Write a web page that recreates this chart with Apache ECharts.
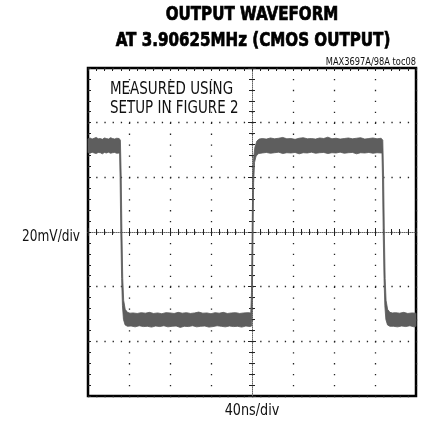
<!DOCTYPE html>
<html>
<head>
<meta charset="utf-8">
<script src="https://cdn.jsdelivr.net/npm/echarts@6/dist/echarts.min.js"></script>
<style>
  html, body { margin: 0; padding: 0; background: #fff; }
  #chart { width: 425px; height: 434px; }
</style>
</head>
<body>
<div id="chart"></div>
<script>
// Scope scales: 8 horizontal divisions of 40 ns, 6 vertical divisions of 20 mV
const timeRange = [0, 320];
const timeStep = 40;
const voltRange = [-60, 60];
const voltStep = 20;

// Text
const titleLines = ['OUTPUT WAVEFORM', 'AT 3.90625MHz (CMOS OUTPUT)'];
const partNote = 'MAX3697A/98A toc08';
const setupNote = ['MEASURED USING', 'SETUP IN FIGURE 2'];
const voltLabel = '20mV/div';
const timeLabel = '40ns/div';

// Upper edge of the noisy trace band: [time ns, mV]
const traceUpper = [
  [0, 34.1], [2, 34.4], [4, 34.0], [6, 34.3], [8, 34.6], [10, 34.1], [12, 34.2], [14, 33.9],
  [16, 34.4], [18, 34.2], [20, 34.0], [22, 34.5], [24, 34.2], [26, 34.0], [28, 34.3], [30.4, 34.2],
  [31.6, 33.6], [32.4, 20], [33.1, 0], [33.9, -17], [34.8, -25], [36.3, -28.3], [38.5, -29.4], [41, -29.7],
  [44, -29.6], [48, -29.8], [52, -29.5], [56, -29.7], [60, -29.4], [64, -29.8], [68, -29.6], [72, -29.9],
  [76, -29.5], [80, -29.6], [84, -29.8], [88, -29.4], [92, -29.7], [96, -29.5], [100, -29.8], [104, -29.6],
  [108, -29.3], [112, -29.7], [116, -29.6], [120, -29.9], [124, -29.5], [128, -29.7], [132, -29.4], [136, -29.8],
  [140, -29.6], [144, -29.5], [148, -29.8], [152, -29.6], [156, -29.5], [158.8, -29.6],
  [159.5, -22], [160.1, 0], [160.8, 20], [161.6, 27], [162.8, 31], [164.8, 33.3], [167, 34.0],
  [170, 34.2], [174, 34.0], [178, 34.4], [182, 34.1], [186, 34.3], [190, 34.6], [194, 34.1], [198, 34.2],
  [202, 33.9], [206, 34.3], [210, 34.5], [214, 34.1], [218, 34.2], [222, 34.0], [226, 34.4], [230, 34.2],
  [234, 34.7], [238, 34.1], [242, 34.3], [246, 34.0], [250, 34.2], [254, 34.4], [258, 34.1], [262, 34.3],
  [266, 34.5], [270, 34.0], [274, 34.2], [278, 34.4], [282, 34.1], [286, 34.3],
  [287.6, 33.6], [288.4, 20], [289.1, 0], [289.9, -17], [290.8, -25], [292.3, -28.3], [294.5, -29.4], [297, -29.6],
  [300, -29.5], [304, -29.7], [308, -29.4], [312, -29.8], [316, -29.6], [320, -29.7]
];

// Lower edge of the trace band: [time ns, mV]
const traceLower = [
  [0, 29.0], [2, 28.8], [4, 29.2], [6, 28.9], [8, 28.7], [10, 29.1], [12, 29.0], [14, 28.6],
  [16, 29.1], [18, 28.9], [20, 29.2], [22, 28.8], [24, 29.0], [26, 29.1], [28, 28.8], [30.8, 28.9],
  [31.3, 20], [32.0, 0], [32.8, -17], [33.6, -27], [34.6, -32], [36.2, -34], [38.5, -34.5],
  [42, -34.4], [46, -34.7], [50, -34.3], [54, -34.6], [58, -34.5], [62, -34.8], [66, -34.4], [70, -34.6],
  [74, -34.3], [78, -34.7], [82, -34.5], [86, -34.4], [90, -34.9], [94, -34.5], [98, -34.6], [102, -34.3],
  [106, -34.7], [110, -34.5], [114, -34.4], [118, -34.8], [122, -34.6], [126, -34.3], [130, -34.5], [134, -34.7],
  [138, -34.4], [142, -34.6], [146, -34.5], [150, -34.8], [154, -34.4], [158, -34.6], [159.6, -34.4],
  [160.1, -28], [160.9, -5], [161.6, 18], [162.5, 25.5], [164, 27.8], [166.5, 28.7],
  [170, 28.9], [174, 29.1], [178, 28.8], [182, 29.0], [186, 29.2], [190, 28.7], [194, 29.0], [198, 28.9],
  [202, 29.1], [206, 28.6], [210, 29.0], [214, 28.9], [218, 29.2], [222, 28.8], [226, 29.0], [230, 29.1],
  [234, 28.7], [238, 29.0], [242, 28.9], [246, 29.2], [250, 28.8], [254, 29.0], [258, 29.1], [262, 28.6],
  [266, 29.0], [270, 28.9], [274, 29.1], [278, 28.8], [282, 29.0], [286, 28.9], [286.8, 28.9],
  [287.3, 20], [288, 0], [288.8, -17], [289.6, -27], [290.6, -32], [292.2, -34], [294.5, -34.5],
  [298, -34.5], [302, -34.7], [306, -34.4], [310, -34.6], [314, -34.3], [318, -34.7], [320, -34.5]
];

const GRID = { left: 88, top: 68, width: 328, height: 328 };
const NARROW = '"DejaVu Sans Condensed", "Liberation Sans Narrow", sans-serif';
const TICK = { color: '#222', width: 1 };

function baseAxis(extra) {
  return Object.assign({
    type: 'value',
    axisLabel: { show: false },
    splitLine: { show: false },
    axisLine: { show: false, onZero: false },
    axisTick: { show: false },
    minorTick: { show: false }
  }, extra);
}

function label(text, x, y, font, align, scaleX, heavy) {
  const style = { text: text, font: font, fill: '#111', align: align, verticalAlign: 'middle' };
  if (heavy) { style.fill = '#000'; style.stroke = '#000'; style.lineWidth = 0.7; }
  return { type: 'text', x: x, y: y, scaleX: scaleX, style: style };
}

const chart = echarts.init(document.getElementById('chart'), null, { renderer: 'canvas' });

chart.setOption({
  animation: false,
  backgroundColor: '#fff',
  grid: Object.assign({ show: true, borderColor: '#000', borderWidth: 2.5, backgroundColor: 'transparent' }, GRID),
  xAxis: [
    // frame edge ticks along the top and dotted vertical graticule
    baseAxis({
      min: timeRange[0], max: timeRange[1], interval: timeStep, position: 'top',
      axisTick: { show: true, inside: true, length: 3, lineStyle: TICK },
      minorTick: { show: true, splitNumber: 5, length: 3, lineStyle: TICK },
      splitLine: { show: true, lineStyle: { color: '#222', width: 1.3, type: [1.3, 9.63] } }
    }),
    // center time axis, ticks below
    baseAxis({
      min: timeRange[0], max: timeRange[1], interval: timeStep, position: 'bottom', offset: -GRID.height / 2,
      axisLine: { show: true, onZero: false, lineStyle: { color: '#666', width: 1, type: [1, 1] } },
      axisTick: { show: true, inside: false, length: 4, lineStyle: TICK },
      minorTick: { show: true, splitNumber: 5, length: 3, lineStyle: TICK }
    }),
    // center time axis, ticks above
    baseAxis({
      min: timeRange[0], max: timeRange[1], interval: timeStep, position: 'bottom', offset: -GRID.height / 2,
      axisTick: { show: true, inside: true, length: 4, lineStyle: TICK },
      minorTick: { show: true, splitNumber: 5, length: 3, lineStyle: TICK }
    })
  ],
  yAxis: [
    // frame edge ticks along the left and dotted horizontal graticule
    baseAxis({
      min: voltRange[0], max: voltRange[1], interval: voltStep, position: 'left',
      axisTick: { show: true, inside: true, length: 3, lineStyle: TICK },
      minorTick: { show: true, splitNumber: 5, length: 3, lineStyle: TICK },
      splitLine: { show: true, lineStyle: { color: '#222', width: 1.3, type: [1.3, 6.9] } }
    }),
    // center voltage axis, ticks to the left
    baseAxis({
      min: voltRange[0], max: voltRange[1], interval: voltStep, position: 'left', offset: -GRID.width / 2,
      axisLine: { show: true, onZero: false, lineStyle: { color: '#666', width: 1, type: [1, 1] } },
      axisTick: { show: true, inside: false, length: 4, lineStyle: TICK },
      minorTick: { show: true, splitNumber: 5, length: 3, lineStyle: TICK }
    }),
    // center voltage axis, ticks to the right
    baseAxis({
      min: voltRange[0], max: voltRange[1], interval: voltStep, position: 'left', offset: -GRID.width / 2,
      axisTick: { show: true, inside: true, length: 4, lineStyle: TICK },
      minorTick: { show: true, splitNumber: 5, length: 3, lineStyle: TICK }
    })
  ],
  series: [{
    type: 'custom',
    name: 'CMOS output',
    xAxisIndex: 0,
    yAxisIndex: 0,
    data: [[timeRange[0], 0]],
    z: 5,
    silent: true,
    renderItem: function (params, api) {
      const pts = [];
      traceUpper.forEach(function (p) { pts.push(api.coord(p)); });
      for (let i = traceLower.length - 1; i >= 0; i--) pts.push(api.coord(traceLower[i]));
      return {
        type: 'polygon',
        shape: { points: pts },
        style: { fill: '#5e5e5e', stroke: '#585858', lineWidth: 0.8, lineJoin: 'round' }
      };
    }
  }],
  graphic: [
    label(titleLines[0], 252, 15, 'bold 20px ' + NARROW, 'center', 0.84, true),
    label(titleLines[1], 253, 41, 'bold 20px ' + NARROW, 'center', 0.84, true),
    label(partNote, 416, 62, '10px ' + NARROW, 'right', 0.92),
    label(setupNote[0], 110, 90, '17px ' + NARROW, 'left', 0.88),
    label(setupNote[1], 110, 108.5, '17px ' + NARROW, 'left', 0.88),
    label(voltLabel, 80, 237, '15px ' + NARROW, 'right', 0.9),
    label(timeLabel, 252, 411, '15px ' + NARROW, 'center', 0.95)
  ]
});
</script>
</body>
</html>
